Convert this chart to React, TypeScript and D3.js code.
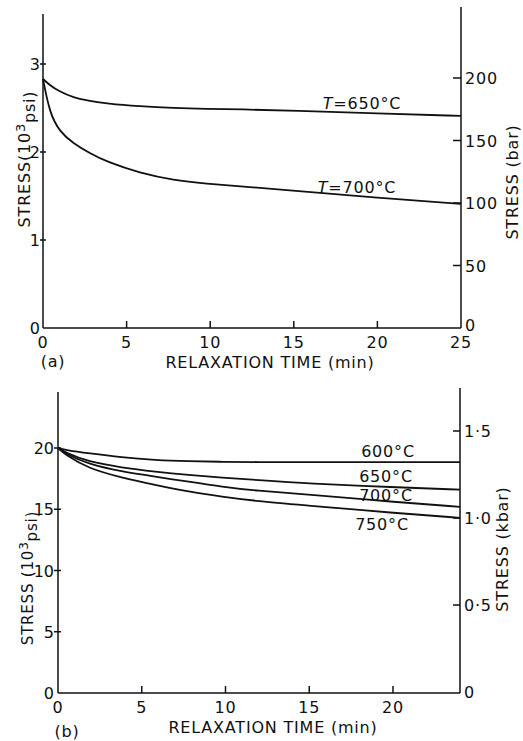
import React from "react";
import * as d3 from "d3";

// panel (a): stress relaxation, 10^3 psi
const timesA = [0, 0.4, 1, 1.8, 2.8, 3.8, 5.8, 7.8, 9.8, 11.8, 15, 20, 25];
const stress650A = [2.83, 2.76, 2.685, 2.62, 2.58, 2.55, 2.52, 2.5, 2.49, 2.485, 2.47, 2.44, 2.41];
const stress700A = [2.83, 2.44, 2.23, 2.1, 1.985, 1.89, 1.76, 1.68, 1.64, 1.61, 1.56, 1.48, 1.41];
const xTicksA = [0, 5, 10, 15, 20, 25];
const yTicksA = [0, 1, 2, 3];
const barTicks = [0, 50, 100, 150, 200];

// panel (b)
const timesB = [0, 0.5, 1.8, 3.8, 5.8, 7.8, 9.8, 11.8, 15, 20, 24];
const stress600B = [20, 19.82, 19.57, 19.23, 19.02, 18.92, 18.87, 18.85, 18.85, 18.85, 18.85];
const stress650B = [20, 19.6, 18.88, 18.4, 18.07, 17.8, 17.58, 17.39, 17.1, 16.8, 16.6];
const stress700B = [20, 19.5, 18.69, 18.07, 17.66, 17.25, 16.84, 16.51, 16.2, 15.6, 15.2];
const stress750B = [20, 19.4, 18.34, 17.58, 16.98, 16.43, 16.03, 15.67, 15.3, 14.7, 14.3];
const xTicksB = [0, 5, 10, 15, 20];
const yTicksB = [0, 5, 10, 15, 20];
const kbarTicks = [0, 0.5, 1, 1.5];
const kbarLabels = ["0", "0·5", "1·0", "1·5"];

const font = "'DejaVu Sans', sans-serif";
const ink = "#111";

export default function App() {
  // scales, panel a
  const xA = d3.scaleLinear().domain([0, 25]).range([43, 461]);
  const yA = d3.scaleLinear().domain([0, 3]).range([328, 64]);
  const barA = d3.scaleLinear().domain([0, 200]).range([328, 78]);
  // panel b
  const xB = d3.scaleLinear().domain([0, 24]).range([58, 460]);
  const yB = d3.scaleLinear().domain([0, 20]).range([693, 448]);
  const kbarB = d3.scaleLinear().domain([0, 1.5]).range([692, 431]);

  const curve = d3.curveBasis;
  const lineA = (vals: number[]) =>
    d3.line<number>().x((_, i) => xA(timesA[i])).y((d) => yA(d)).curve(curve)(vals) || "";
  const lineB = (vals: number[]) =>
    d3.line<number>().x((_, i) => xB(timesB[i])).y((d) => yB(d)).curve(curve)(vals) || "";

  const fs = 16;
  const ls = 0.8;

  return (
    <svg
      width={523}
      height={741}
      style={{ position: "absolute", left: 0, top: 0, background: "#fff" }}
      fontFamily={font}
      fill={ink}
    >
      {/* ---------- panel (a) ---------- */}
      <g stroke={ink} strokeWidth={1.5} fill="none">
        <line x1={xA(0)} x2={xA(0)} y1={yA(0)} y2={14} />
        <line x1={xA(0)} x2={xA(25)} y1={yA(0)} y2={yA(0)} />
        <line x1={xA(25)} x2={xA(25)} y1={yA(0)} y2={7} />
        {yTicksA.filter((t) => t > 0).map((t) => (
          <line key={"ya" + t} x1={xA(0) - 3} x2={xA(0) + 3} y1={yA(t)} y2={yA(t)} />
        ))}
        {xTicksA.filter((t) => t > 0 && t < 25).map((t) => (
          <line key={"xa" + t} x1={xA(t)} x2={xA(t)} y1={yA(0)} y2={yA(0) - 7} />
        ))}
        {barTicks.filter((t) => t > 0).map((t) => (
          <line key={"ba" + t} x1={xA(25) - 8} x2={xA(25)} y1={barA(t)} y2={barA(t)} />
        ))}
        <path d={lineA(stress650A)} strokeWidth={1.8} />
        <path d={lineA(stress700A)} strokeWidth={1.8} />
      </g>
      <g fontSize={fs} stroke="none" letterSpacing={ls}>
        {yTicksA.map((t) => (
          <text key={"yla" + t} x={xA(0) - 3} y={yA(t) + 6} textAnchor="end" letterSpacing={0}>{t}</text>
        ))}
        {xTicksA.map((t) => (
          <text key={"xla" + t} x={xA(t)} y={348} textAnchor="middle">{t}</text>
        ))}
        {barTicks.map((t) => (
          <text key={"bla" + t} x={xA(25) + 4} y={barA(t) + 6 - (t === 0 ? 3 : 0)}>{t}</text>
        ))}
        <text x={270} y={368} textAnchor="middle">RELAXATION TIME (min)</text>
        <text x={53} y={367} textAnchor="middle">(a)</text>
        <text transform={`translate(30,159) rotate(-90)`} textAnchor="middle">
          STRESS(10<tspan dy={-5} fontSize={13}>3</tspan><tspan dy={10}>psi)</tspan>
        </text>
        <text transform={`translate(518,182) rotate(-90)`} textAnchor="middle">STRESS (bar)</text>
        <text x={362} y={109} textAnchor="middle">
          <tspan fontStyle="italic">T</tspan>=650°C
        </text>
        <text x={357} y={193} textAnchor="middle">
          <tspan fontStyle="italic">T</tspan>=700°C
        </text>
      </g>

      {/* ---------- panel (b) ---------- */}
      <g stroke={ink} strokeWidth={1.5} fill="none">
        <line x1={xB(0)} x2={xB(0)} y1={yB(0)} y2={392} />
        <line x1={xB(0)} x2={xB(24)} y1={yB(0)} y2={yB(0)} />
        <line x1={xB(24)} x2={xB(24)} y1={yB(0)} y2={388} />
        {yTicksB.filter((t) => t > 0).map((t) => (
          <line key={"yb" + t} x1={xB(0) - 4} x2={xB(0) + 3} y1={yB(t)} y2={yB(t)} />
        ))}
        {xTicksB.filter((t) => t > 0).map((t) => (
          <line key={"xb" + t} x1={xB(t)} x2={xB(t)} y1={yB(0)} y2={yB(0) - 7} />
        ))}
        {kbarTicks.filter((t) => t > 0).map((t) => (
          <line key={"kb" + t} x1={xB(24) - 7} x2={xB(24)} y1={kbarB(t)} y2={kbarB(t)} />
        ))}
        {[stress600B, stress650B, stress700B, stress750B].map((s, i) => (
          <path key={"cb" + i} d={lineB(s)} strokeWidth={1.8} />
        ))}
      </g>
      <g fontSize={fs} stroke="none" letterSpacing={ls}>
        {yTicksB.map((t) => (
          <text key={"ylb" + t} x={xB(0) - 4} y={yB(t) + 6} textAnchor="end" letterSpacing={0}>{t}</text>
        ))}
        {xTicksB.map((t) => (
          <text key={"xlb" + t} x={xB(t)} y={713} textAnchor="middle">{t}</text>
        ))}
        {kbarTicks.map((t, i) => (
          <text key={"klb" + t} x={xB(24) + 4} y={kbarB(t) + 6}>{kbarLabels[i]}</text>
        ))}
        <text x={273} y={733} textAnchor="middle">RELAXATION TIME (min)</text>
        <text x={67} y={737} textAnchor="middle">(b)</text>
        <text transform={`translate(33,578) rotate(-90)`} textAnchor="middle" fontSize={15}>
          STRESS (10<tspan dy={-5} fontSize={12}>3</tspan><tspan dy={9}>psi)</tspan>
        </text>
        <text transform={`translate(508,549) rotate(-90)`} textAnchor="middle">STRESS (kbar)</text>
        <text x={388} y={457} textAnchor="middle">600°C</text>
        <text x={386} y={482} textAnchor="middle">650°C</text>
        <text x={386} y={501} textAnchor="middle">700°C</text>
        <text x={382} y={530} textAnchor="middle">750°C</text>
      </g>
    </svg>
  );
}
